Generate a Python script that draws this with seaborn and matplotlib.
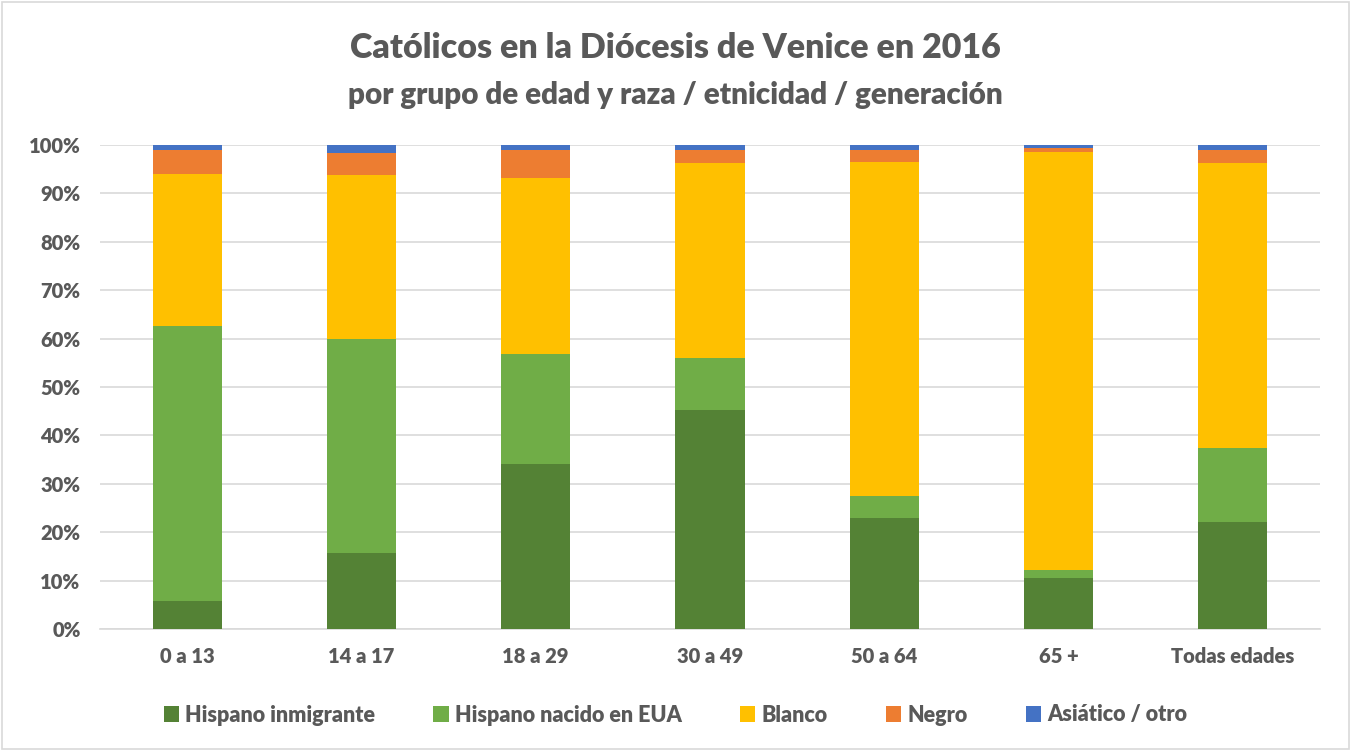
import numpy as np
import pandas as pd
import matplotlib
matplotlib.use("Agg")
import matplotlib.pyplot as plt
from matplotlib.patches import Patch, Rectangle
import seaborn as sns

categories = ["0 a 13", "14 a 17", "18 a 29", "30 a 49", "50 a 64", "65 +", "Todas edades"]
series_names = ["Hispano inmigrante", "Hispano nacido en EUA", "Blanco", "Negro", "Asiático / otro"]
hisp_inm = [5.8, 15.7, 34.0, 45.3, 23.0, 10.5, 22.2]
hisp_nac = [56.8, 44.2, 22.9, 10.6, 4.4, 1.7, 15.3]
blanco = [31.4, 34.0, 36.3, 40.3, 69.1, 86.3, 58.8]
negro = [4.9, 4.5, 5.7, 2.7, 2.4, 0.8, 2.7]
asiatico = [1.1, 1.6, 1.1, 1.1, 1.1, 0.7, 1.0]
colors = ["#548235", "#70AD47", "#FFC000", "#ED7D31", "#4472C4"]
yticks = [0, 10, 20, 30, 40, 50, 60, 70, 80, 90, 100]

sns.set_theme(style="white")
plt.rcParams["font.family"] = ["Lato", "DejaVu Sans"]
W = "heavy"
plt.rcParams["font.weight"] = W
txt = "#595959"

series = [hisp_inm, hisp_nac, blanco, negro, asiatico]
cum = np.cumsum(np.array(series), axis=0)

fig = plt.figure(figsize=(13.51, 7.51), dpi=100)
ax = fig.add_axes([100 / 1351, (751 - 629) / 751, 1220 / 1351, 484 / 751])

# draw from top cumulative down so lower segments overlay
for i in range(len(series) - 1, -1, -1):
    df = pd.DataFrame({"grupo": categories, "val": cum[i]})
    sns.barplot(data=df, x="grupo", y="val", order=categories, color=colors[i],
                width=0.396, saturation=1, ax=ax, linewidth=0, zorder=3)

ax.set_ylim(0, 100)
ax.set_xlim(-0.5, len(categories) - 0.5)
ax.set_yticks(yticks, [f"{t}%" for t in yticks], fontweight=W, fontsize=14.5, color=txt)
ax.set_xticks(range(len(categories)), categories, fontweight=W, fontsize=14.5, color=txt)
ax.yaxis.grid(True, color="#D9D9D9", linewidth=1.2, zorder=0)
ax.xaxis.grid(False)
ax.set_axisbelow(True)
for s in ["top", "right", "left"]:
    ax.spines[s].set_visible(False)
ax.spines["bottom"].set_color("#D9D9D9")
ax.spines["bottom"].set_linewidth(1.2)
ax.set_xlabel("")
ax.set_ylabel("")
ax.tick_params(axis="both", length=0)
ax.tick_params(axis="x", pad=13)
ax.tick_params(axis="y", pad=14)

fig.text(0.5, 1 - 48 / 751, "Católicos en la Diócesis de Venice en 2016", ha="center", va="center",
         fontsize=24.5, fontweight=W, color=txt)
fig.text(0.5, 1 - 95 / 751, "por grupo de edad y raza / etnicidad / generación", ha="center", va="center",
         fontsize=21.3, fontweight=W, color=txt)

handles = [Patch(facecolor=c, edgecolor="none") for c in colors]
leg = fig.legend(handles, series_names, loc="center", bbox_to_anchor=(0.5, 1 - 715 / 751), ncol=5,
                 frameon=False, handlelength=0.7, handleheight=0.7, handletextpad=0.3,
                 columnspacing=2.7, prop={"weight": W, "size": 15.5})
for t in leg.get_texts():
    t.set_color(txt)

fig.patches.append(Rectangle((2 / 1351, 2 / 751), 1 - 4 / 1351, 1 - 4 / 751, transform=fig.transFigure,
                             fill=False, edgecolor="#D9D9D9", linewidth=1.2))

fig.savefig("out.png", dpi=100, facecolor="white")
